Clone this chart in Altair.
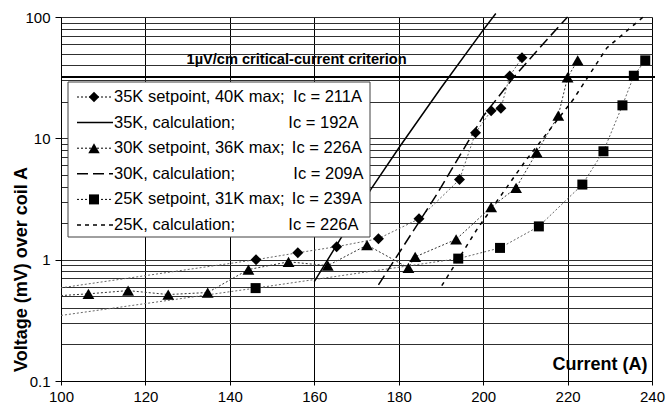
import altair as alt
import pandas as pd

FONT = "Liberation Sans"

# ---- measured series (current in A, voltage in mV) ----
# 35K setpoint, 40K max (diamonds)
D35_I = [146.2, 156.1, 165.3, 175.2, 184.8, 194.4, 198.2, 201.9, 204.2, 206.3, 209.2]
D35_V = [1.0, 1.14, 1.28, 1.49, 2.17, 4.57, 11.1, 16.9, 17.7, 32.6, 46.2]
D35_EDGE_V = 0.586  # where its dotted line enters at the left axis

# 30K setpoint, 36K max (triangles)
T30_I = [106.5, 115.9, 125.4, 134.75, 144.4, 153.9, 163.2, 172.5, 182.3, 183.9,
         193.6, 201.9, 207.8, 212.7, 217.8, 220.0, 222.4]
T30_V = [0.523, 0.556, 0.516, 0.536, 0.829, 0.96, 0.893, 1.32, 0.856, 1.055,
         1.47, 2.71, 3.90, 7.67, 15.4, 31.8, 43.9]
T30_EDGE_V = 0.506

# 25K setpoint, 31K max (squares)
S25_I = [146.1, 194.1, 204.0, 213.2, 223.5, 228.5, 233.0, 235.7, 238.4]
S25_V = [0.583, 1.02, 1.25, 1.88, 4.16, 7.82, 18.7, 32.8, 43.9]
S25_EDGE_V = 0.347

EDGE_I = 100

# calculations
C35_I = [160.0, 173.4, 180.3, 190.0, 200.0, 203.0]
C35_V = [0.66, 3.8, 8.6, 26.0, 78.0, 107.0]
C30_I = [175.2, 189.0, 200.0, 207.1, 215.1, 220.0]
C30_V = [0.62, 3.44, 15.2, 31.4, 65.0, 100.0]
C25_I = [190.2, 198.5, 210.0, 221.3, 229.3, 238.2]
C25_V = [0.61, 1.77, 6.5, 20.8, 55.6, 102.0]

CRITERION_V = 32
CRITERION_TEXT = "1µV/cm critical-current criterion"

X_TICKS = [100, 120, 140, 160, 180, 200, 220, 240]
Y_GRID = [0.1, 0.2, 0.3, 0.4, 0.5, 0.6, 0.7, 0.8, 0.9,
          1, 2, 3, 4, 5, 6, 7, 8, 9,
          10, 20, 30, 40, 50, 60, 70, 80, 90, 100]

LEG_LABELS = ["35K setpoint, 40K max;", "35K, calculation;", "30K setpoint, 36K max;",
              "30K, calculation;", "25K setpoint, 31K max;", "25K, calculation;"]
LEG_IC = ["Ic = 211A", "Ic = 192A", "Ic = 226A", "Ic = 209A", "Ic = 239A", "Ic = 226A"]

# ---- encodings ----
is_decade = "abs(log(datum.value)/LN10 - round(log(datum.value)/LN10)) < 0.000001"

x_axis = alt.Axis(
    values=X_TICKS, format="d", title="Current (A)", grid=True, gridColor="#000000",
    gridWidth=1, tickSize=4, tickColor="#000000", domainColor="#000000",
    labelFont=FONT, labelFontSize=15, labelColor="#000000", labelPadding=4,
    labelFlush=False, titleFont=FONT, titleFontSize=18, titleFontWeight="bold",
    titleColor="#000000", titleX=538.5, titleY=-11.5, titleAlign="center",
    titleBaseline="alphabetic",
)
y_axis = alt.Axis(
    values=Y_GRID, format="~g", labelExpr=f"{is_decade} ? datum.label : ''",
    title="Voltage (mV) over coil A", grid=True, gridColor="#303030", gridWidth=1,
    tickSize=6, tickColor="#000000",
    tickOpacity={"condition": {"test": is_decade, "value": 1}, "value": 0},
    domainColor="#000000", labelFont=FONT, labelFontSize=15, labelColor="#000000",
    labelPadding=5, labelOverlap=False, titleFont=FONT, titleFontSize=18,
    titleFontWeight="bold", titleColor="#000000", titleX=-39.5, titleY=252,
    titleAngle=270, titleAlign="center", titleBaseline="middle",
)

X = alt.X("I:Q", scale=alt.Scale(domain=[100, 240], nice=False, zero=False), axis=x_axis)
Y = alt.Y("V:Q", scale=alt.Scale(type="log", domain=[0.1, 100], nice=False), axis=y_axis)


def df(i, v):
    return pd.DataFrame({"I": i, "V": v})


layers = []

# criterion line
layers.append(
    alt.Chart(pd.DataFrame({"V": [CRITERION_V]}))
    .mark_rule(color="#000000", strokeWidth=2)
    .encode(x=alt.value(0), x2=alt.value(594), y=Y)
)

# measured series lines (dotted)
for ii, vv, edge, col in [(D35_I, D35_V, D35_EDGE_V, "#666666"),
                          (T30_I, T30_V, T30_EDGE_V, "#333333"),
                          (S25_I, S25_V, S25_EDGE_V, "#666666")]:
    layers.append(
        alt.Chart(df([EDGE_I] + ii, [edge] + vv))
        .mark_line(color=col, strokeWidth=1, strokeDash=[2, 2])
        .encode(x=X, y=Y)
    )

# calculation lines
for ii, vv, dash in [(C35_I, C35_V, None), (C30_I, C30_V, [11, 5]), (C25_I, C25_V, [4, 5])]:
    kw = dict(color="#000000", strokeWidth=1.5)
    if dash:
        kw["strokeDash"] = dash
    layers.append(alt.Chart(df(ii, vv)).mark_line(**kw).encode(x=X, y=Y))

# markers
for ii, vv, shape, size in [(D35_I, D35_V, "diamond", 120),
                            (T30_I, T30_V, "triangle-up", 140),
                            (S25_I, S25_V, "square", 100)]:
    layers.append(
        alt.Chart(df(ii, vv))
        .mark_point(shape=shape, filled=True, color="#000000", opacity=1, size=size)
        .encode(x=X, y=Y)
    )

# criterion label
layers.append(
    alt.Chart(pd.DataFrame({"I": [155.8], "V": [40]}))
    .mark_text(text=CRITERION_TEXT, font=FONT, fontSize=14.6, fontWeight="bold",
               align="center", baseline="alphabetic", dy=-1, color="#000000")
    .encode(x=X, y=Y)
)

# ---- legend box ----
one = pd.DataFrame({"k": [0]})
layers.append(
    alt.Chart(one).mark_rect(fill="#ffffff", stroke="#404040", strokeWidth=1)
    .encode(x=alt.value(7), x2=alt.value(309), y=alt.value(65), y2=alt.value(220))
)

row_y0, row_step = 80.0, 25.6
shapes = ["diamond", None, "triangle-up", None, "square", None]
shape_sizes = [110, 0, 130, 0, 100, 0]
dashes = [[2, 2], None, [2, 2], [11, 5], [2, 2], [4, 4]]
ic_right = [301, 297.5, 301, 302.5, 301, 297.5]
for k in range(6):
    yk = row_y0 + k * row_step
    kw = dict(color="#000000", strokeWidth=1 if shapes[k] else 1.5)
    if dashes[k]:
        kw["strokeDash"] = dashes[k]
    layers.append(alt.Chart(one).mark_rule(**kw)
                  .encode(x=alt.value(16), x2=alt.value(52), y=alt.value(yk)))
    if shapes[k]:
        layers.append(alt.Chart(one).mark_point(shape=shapes[k], filled=True, color="#000000",
                                                opacity=1, size=shape_sizes[k])
                      .encode(x=alt.value(33), y=alt.value(yk)))
    layers.append(alt.Chart(one).mark_text(text=LEG_LABELS[k], font=FONT, fontSize=16.5,
                                           align="left", baseline="middle", color="#000000")
                  .encode(x=alt.value(53), y=alt.value(yk)))
    layers.append(alt.Chart(one).mark_text(text=LEG_IC[k], font=FONT, fontSize=16.5,
                                           align="right", baseline="middle", color="#000000")
                  .encode(x=alt.value(ic_right[k]), y=alt.value(yk)))

chart = (
    alt.layer(*layers)
    .properties(width=591, height=364, autosize=alt.AutoSizeParams(type="none"),
                padding={"left": 61, "top": 17, "right": 14, "bottom": 27})
    .configure_view(stroke="#808080", strokeWidth=1)
    .configure(background="#ffffff")
)

chart.save("out.html", embed_options={"renderer": "svg", "actions": False})
